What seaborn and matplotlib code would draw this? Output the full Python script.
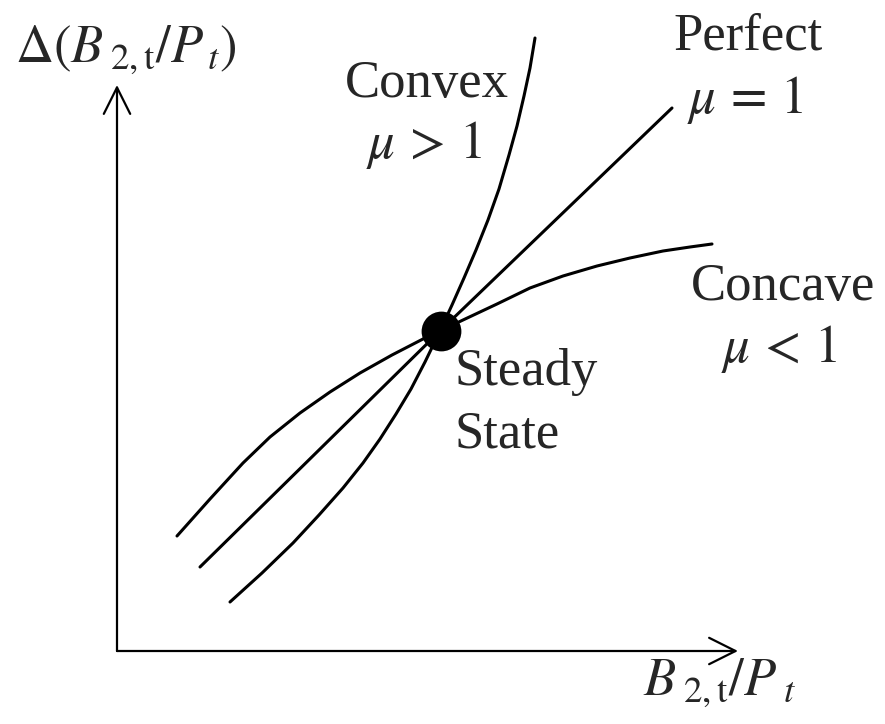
import matplotlib
matplotlib.use("Agg")
import matplotlib.pyplot as plt
import seaborn as sns
import pandas as pd

# ---- data (pixel-like coordinates, y grows downward) ----
convex_x = [230, 262, 293, 319, 343, 363, 380, 396, 411, 425, 440, 452, 464, 476, 488, 499, 509, 517, 524, 530, 535]
convex_y = [602, 573, 543, 515, 488, 463, 439, 414, 389, 362, 331, 305, 278, 250, 220, 189, 155, 126, 96, 68, 38]

perfect_x = [200, 440, 672]
perfect_y = [567, 331, 108]

concave_x = [177, 210, 243, 270, 300, 330, 360, 392, 423, 440, 463, 497, 530, 563, 597, 630, 663, 690, 712]
concave_y = [536, 499, 463, 437, 413, 392, 373, 355, 339, 331, 320, 304, 288, 276, 266, 258, 251, 247, 244]

steady_x = [441]
steady_y = [331]

curve_labels = ["Convex", "Perfect", "Concave"]
curve_params = [r"$\mu\, >\, 1$", r"$\mu\, =\, 1$", r"$\mu\, <\, 1$"]
steady_label = ["Steady", "State"]
x_label = r"$B_{\;\mathrm{2,t}}/P_{\;t}$"
y_label = r"$\Delta(B_{\;\mathrm{2,t}}/P_{\,t})$"

# ---- style ----
sns.set_theme(style="white")
plt.rcParams["font.family"] = ["Liberation Serif", "DejaVu Serif"]
plt.rcParams["mathtext.fontset"] = "stix"

fig = plt.figure(figsize=(8.85, 7.24), dpi=100)
ax = fig.add_axes([0, 0, 1, 1])
ax.set_xlim(0, 885)
ax.set_ylim(724, 0)
ax.axis("off")

lw = 2.2
for xs, ys in [(convex_x, convex_y), (perfect_x, perfect_y), (concave_x, concave_y)]:
    df = pd.DataFrame({"x": xs, "y": ys})
    sns.lineplot(data=df, x="x", y="y", sort=False, estimator=None,
                 color="black", lw=lw, ax=ax, solid_capstyle="round",
                 solid_joinstyle="round")

sns.scatterplot(x=steady_x, y=steady_y, s=820, color="black", edgecolor="black",
                linewidth=0, ax=ax, zorder=5)

# axes with open arrowheads
origin = (117, 651)
arrow = dict(arrowstyle="->,head_length=1.9,head_width=0.95", color="black",
             lw=1.6, mutation_scale=10, shrinkA=0, shrinkB=0)
ax.annotate("", xy=(738, origin[1]), xytext=origin, arrowprops=arrow)
ax.annotate("", xy=(origin[0], 85), xytext=origin, arrowprops=arrow)

fs = 38
ax.text(427, 97, curve_labels[0], fontsize=fs, ha="center", va="baseline")
ax.text(424, 158, curve_params[0], fontsize=fs, ha="center", va="baseline")
ax.text(748, 50, curve_labels[1], fontsize=fs, ha="center", va="baseline")
ax.text(745, 113, curve_params[1], fontsize=fs, ha="center", va="baseline")
ax.text(783, 300, curve_labels[2], fontsize=fs, ha="center", va="baseline")
ax.text(779, 362, curve_params[2], fontsize=fs, ha="center", va="baseline")
ax.text(455, 385, steady_label[0], fontsize=fs, ha="left", va="baseline")
ax.text(455, 448, steady_label[1], fontsize=fs, ha="left", va="baseline")

ax.text(15, 62, y_label, fontsize=fs, ha="left", va="baseline")
ax.text(643, 695, x_label, fontsize=fs, ha="left", va="baseline")

fig.savefig("out.png", dpi=100, facecolor="white")
